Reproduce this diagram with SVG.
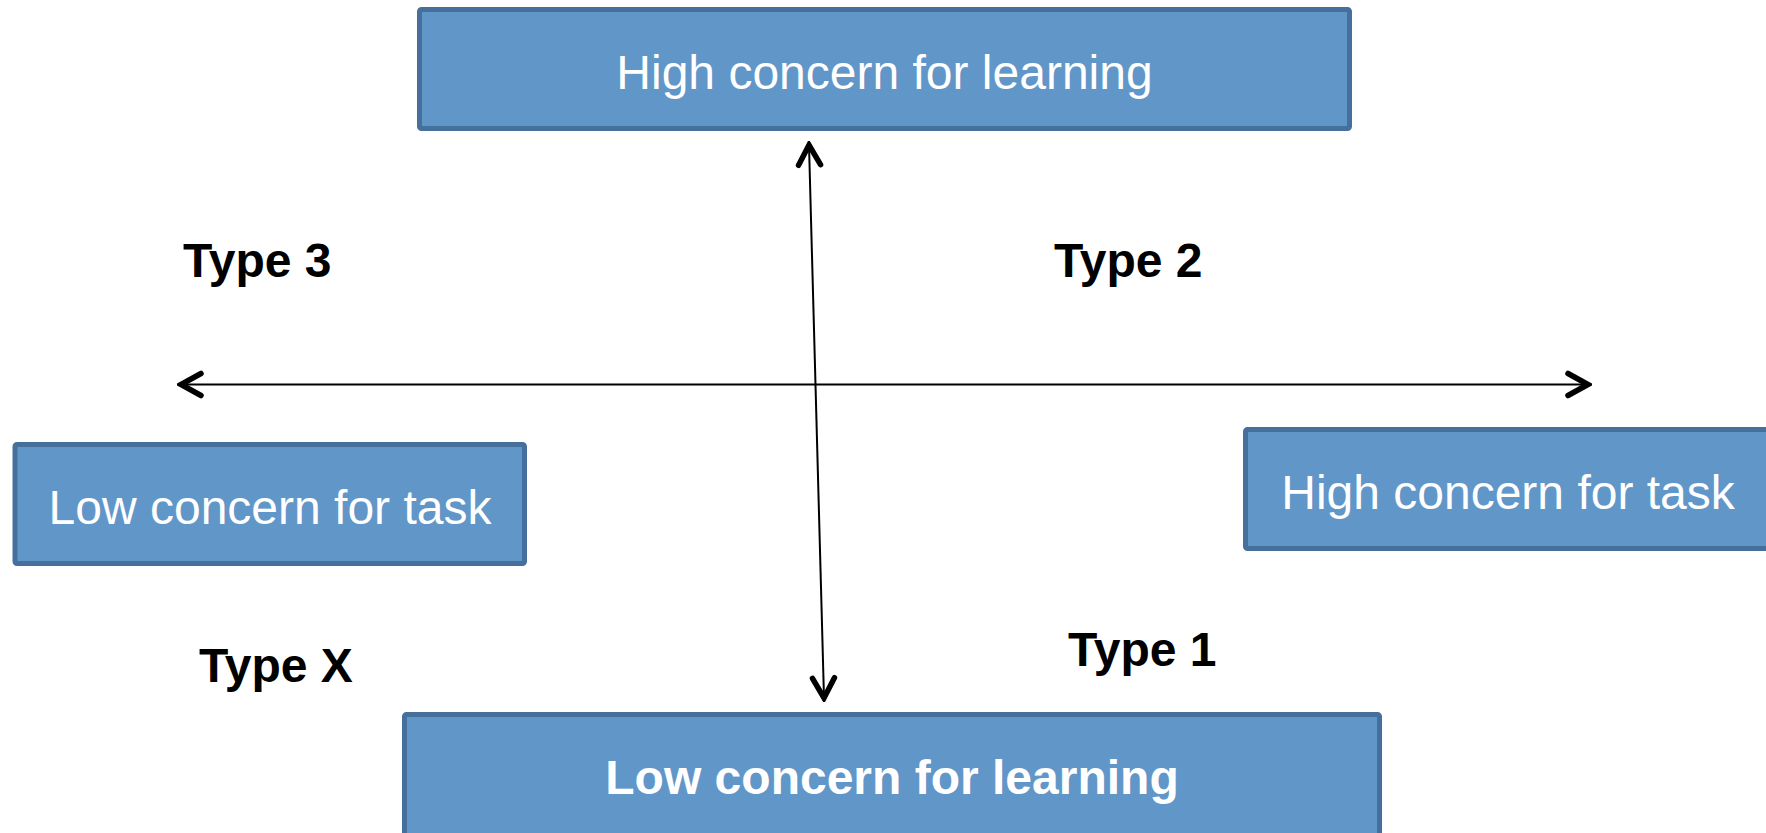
<svg xmlns="http://www.w3.org/2000/svg" width="1766" height="833" viewBox="0 0 1766 833">
  <style>
    .box { fill: #6196C8; stroke: #45709C; stroke-width: 5; }
    .lbl { font-family: "Liberation Sans", Arial, sans-serif; font-size: 48px; fill: #ffffff; text-anchor: middle; }
    .bold { font-weight: bold; }
    .type { font-family: "Liberation Sans", Arial, sans-serif; font-size: 48px; font-weight: bold; fill: #000000; }
    .axis { stroke: #000000; stroke-width: 2; fill: none; }
  </style>
  <defs>
    <marker id="chev" markerUnits="userSpaceOnUse" viewBox="-26 -16 30 32" refX="0" refY="0" markerWidth="30" markerHeight="32" orient="auto-start-reverse">
      <path d="M -20 -11 L 0 0 L -20 11" fill="none" stroke="#000000" stroke-width="5.5" stroke-linecap="round" stroke-linejoin="miter"/>
    </marker>
  </defs>
  <rect width="1766" height="833" fill="#ffffff"/>

  <g id="connectors">
    <line class="axis" x1="181" y1="384.5" x2="1588" y2="384.5" marker-start="url(#chev)" marker-end="url(#chev)"/>
    <line class="axis" x1="809" y1="145" x2="824" y2="698" marker-start="url(#chev)" marker-end="url(#chev)"/>
  </g>

  <g id="high-learning">
    <rect class="box" x="419.5" y="9.5" width="930" height="119" rx="2"/>
    <text class="lbl" x="884.5" y="89">High concern for learning</text>
  </g>

  <g id="low-task">
    <rect class="box" x="15" y="444.5" width="509.5" height="119" rx="2"/>
    <text class="lbl" x="270" y="524">Low concern for task</text>
  </g>

  <g id="high-task">
    <rect class="box" x="1245.5" y="429.5" width="530" height="119" rx="2"/>
    <text class="lbl" x="1508" y="509">High concern for task</text>
  </g>

  <g id="low-learning">
    <rect class="box" x="404.5" y="714.5" width="975" height="130" rx="2"/>
    <text class="lbl bold" x="892" y="794">Low concern for learning</text>
  </g>

  <g id="type-3"><text class="type" x="183" y="277">Type 3</text></g>
  <g id="type-2"><text class="type" x="1054" y="277">Type 2</text></g>
  <g id="type-x"><text class="type" x="199" y="682">Type X</text></g>
  <g id="type-1"><text class="type" x="1068" y="666">Type 1</text></g>
</svg>
